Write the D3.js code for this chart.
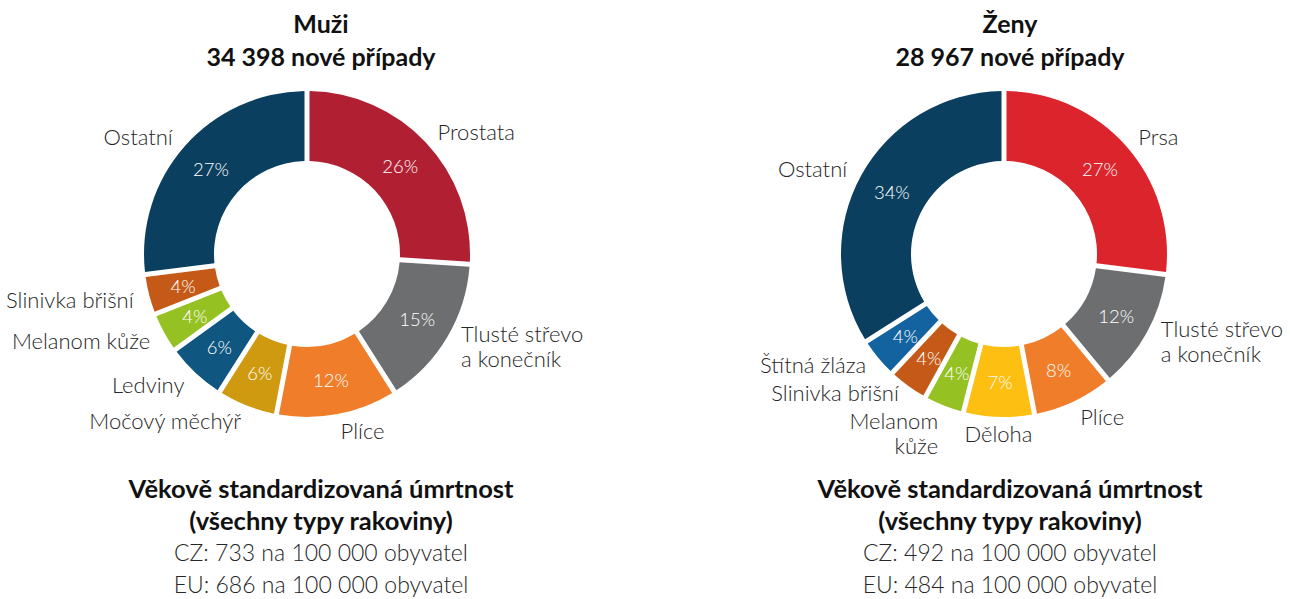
<!DOCTYPE html>
<html>
<head>
<meta charset="utf-8">
<script src="https://cdn.jsdelivr.net/npm/d3@7"></script>
<style>
  body { margin: 0; background: #fff; }
  svg text { font-family: Lato, "Open Sans", sans-serif; }
  .title { font-weight: 700; font-size: 25px; fill: #111; }
  .label { font-weight: 300; font-size: 22px; fill: #262626; }
  .pct { font-weight: 300; font-size: 18.5px; fill: #fff; }
  .foot { font-weight: 300; font-size: 23px; fill: #262626; }
  .footBold { font-weight: 700; font-size: 25.5px; fill: #111; }
</style>
</head>
<body>
<div id="chart"></div>
<script>
"use strict";

// men
const menCategories = ["Prostata", "Tlusté střevo|a konečník", "Plíce", "Močový měchýř", "Ledviny", "Melanom kůže", "Slinivka břišní", "Ostatní"];
const menValues = [26, 15, 12, 6, 6, 4, 4, 27];
const menColors = ["#b01f32", "#6d6e70", "#f07d2a", "#cf9a10", "#0f5780", "#95c122", "#c55a18", "#0b3f5f"];
const menTitle = ["Muži", "34 398 nové případy"];
const menFooter = ["Věkově standardizovaná úmrtnost", "(všechny typy rakoviny)", "CZ: 733 na 100 000 obyvatel", "EU: 686 na 100 000 obyvatel"];

// women
const womenCategories = ["Prsa", "Tlusté střevo|a konečník", "Plíce", "Děloha", "Melanom|kůže", "Slinivka břišní", "Štítná žláza", "Ostatní"];
const womenValues = [27, 12, 8, 7, 4, 4, 4, 34];
const womenColors = ["#db242b", "#6d6e70", "#f07d2a", "#fdbf12", "#95c122", "#c55a18", "#1363a0", "#0b3f5f"];
const womenTitle = ["Ženy", "28 967 nové případy"];
const womenFooter = ["Věkově standardizovaná úmrtnost", "(všechny typy rakoviny)", "CZ: 492 na 100 000 obyvatel", "EU: 484 na 100 000 obyvatel"];

const width = 1290, height = 599;
const outerR = 163, innerR = 93, labelR = 179, gap = 5;
const lineHeight = 25, minLabelGap = 28;

let svg = d3.select("#chart").append("svg")
  .attr("width", width)
  .attr("height", height);

drawDonut(307, 254, 321, menCategories, menValues, menColors, menTitle, menFooter);
drawDonut(1004, 254, 1010, womenCategories, womenValues, womenColors, womenTitle, womenFooter);

function drawDonut(cx, cy, textX, categories, values, colors, title, footer) {
  let data = categories.map((c, i) => ({ name: c, value: values[i], color: colors[i] }));

  let pie = d3.pie()
    .sort(null)
    .value(d => d.value);

  let arc = d3.arc()
    .innerRadius(innerR)
    .outerRadius(outerR)
    .padRadius(outerR)
    .padAngle(gap / outerR);

  let g = svg.append("g")
    .attr("transform", "translate(" + cx + "," + cy + ")");

  let arcs = pie(data);

  g.selectAll(".slice")
    .data(arcs)
    .enter().append("path")
    .attr("class", "slice")
    .attr("d", arc)
    .style("fill", d => d.data.color);

  // percentages inside the ring
  g.selectAll(".pct")
    .data(arcs)
    .enter().append("text")
    .attr("class", "pct")
    .attr("text-anchor", "middle")
    .attr("dominant-baseline", "central")
    .attr("transform", d => "translate(" + arc.centroid(d) + ")")
    .text(d => d.data.value + "%");

  // label anchor points around the ring
  let labels = arcs.map(d => {
    let a = (d.startAngle + d.endAngle) / 2;
    let s = Math.sin(a);
    let lines = d.data.name.split("|");
    return {
      lines: lines,
      x: labelR * s,
      y: -labelR * Math.cos(a),
      anchor: s > 0.1 ? "start" : (s < -0.1 ? "end" : "middle")
    };
  });

  relaxLabels(labels.filter(l => l.anchor === "end"));
  relaxLabels(labels.filter(l => l.anchor === "start"));

  g.selectAll(".label")
    .data(labels)
    .enter().append("text")
    .attr("class", "label")
    .attr("text-anchor", d => d.anchor)
    .attr("dominant-baseline", "central")
    .each(function(d) {
      let text = d3.select(this);
      d.lines.forEach((l, i) => {
        text.append("tspan")
          .attr("x", d.x)
          .attr("y", d.y + (i - (d.lines.length - 1) / 2) * lineHeight)
          .text(l);
      });
    });

  // title above
  svg.selectAll(null)
    .data(title)
    .enter().append("text")
    .attr("class", "title")
    .attr("text-anchor", "middle")
    .attr("x", textX)
    .attr("y", (d, i) => 33 + i * 33)
    .text(d => d);

  // mortality text below
  svg.selectAll(null)
    .data(footer)
    .enter().append("text")
    .attr("class", (d, i) => i < 2 ? "footBold" : "foot")
    .attr("text-anchor", "middle")
    .attr("x", textX)
    .attr("y", (d, i) => 498 + i * 31.7)
    .text(d => d);
}

// push neighbouring labels on one side apart so their lines do not collide
function relaxLabels(side) {
  let half = l => (l.lines.length - 1) / 2 * lineHeight;
  for (let iter = 0; iter < 50; iter++) {
    side.sort((a, b) => a.y - b.y);
    for (let i = 1; i < side.length; i++) {
      let prev = side[i - 1], next = side[i];
      let space = (next.y - half(next)) - (prev.y + half(prev));
      if (space < minLabelGap) {
        let shift = (minLabelGap - space) / 2;
        prev.y -= shift;
        next.y += shift;
      }
    }
  }
}
</script>
</body>
</html>
